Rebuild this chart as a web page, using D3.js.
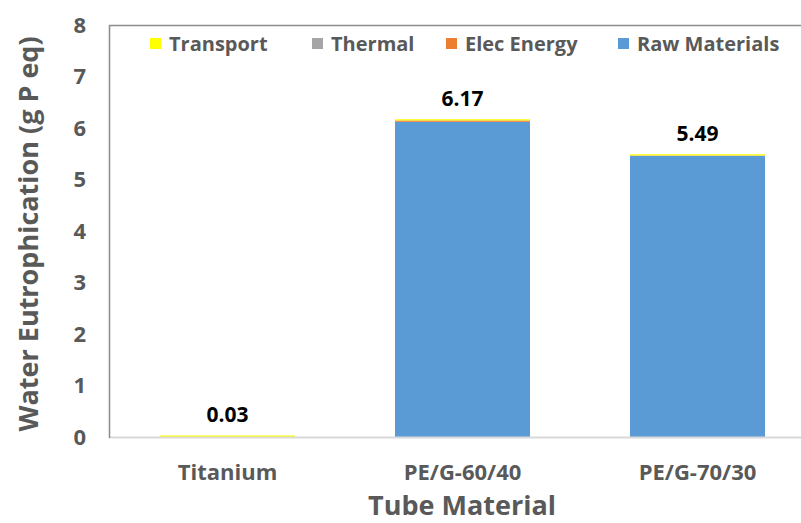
<!DOCTYPE html>
<html>
<head>
<meta charset="utf-8">
<script src="https://cdn.jsdelivr.net/npm/d3@7"></script>
<style>
  html, body { margin: 0; padding: 0; background: #ffffff; }
  svg { display: block; }
  text { font-family: "Open Sans", Lato, sans-serif; font-weight: bold; }
</style>
</head>
<body>
<svg id="chart" width="801" height="523"></svg>
<script>
// Tube materials on the x axis
const categories = ["Titanium", "PE/G-60/40", "PE/G-70/30"];

// Contributions per stage (g P eq), stacked bottom to top
const rawMaterials = [0, 6.12, 5.46];
const elecEnergy   = [0, 0.025, 0.005];
const thermal      = [0, 0.002, 0.001];
const transport    = [0.03, 0.023, 0.024];

// Totals printed above each bar
const totals = [0.03, 6.17, 5.49];

const yTicks = [0, 1, 2, 3, 4, 5, 6, 7, 8];

const seriesNames  = ["Raw Materials", "Elec Energy", "Thermal", "Transport"];
const seriesColors = ["#5B9BD5", "#ED7D31", "#A5A5A5", "#FFFF00"];
const legendOrder  = ["Transport", "Thermal", "Elec Energy", "Raw Materials"];

const rows = categories.map((c, i) => ({
  category: c,
  "Raw Materials": rawMaterials[i],
  "Elec Energy": elecEnergy[i],
  "Thermal": thermal[i],
  "Transport": transport[i]
}));

const svg = d3.select("#chart");
const textGrey = "#595959";
const fontFamily = "'Open Sans', Lato, sans-serif";

const plot = { left: 109, top: 25, bottom: 437, right: 815 };

const x = d3.scaleBand()
  .domain(categories)
  .range([plot.left + 1, plot.right])
  .paddingInner(0.4255)
  .paddingOuter(0.2128);

const y = d3.scaleLinear().domain([0, 8]).range([plot.bottom, plot.top]);

const color = d3.scaleOrdinal().domain(seriesNames).range(seriesColors);

// Plot area frame (top edge)
svg.append("line")
  .attr("x1", plot.left).attr("x2", 801)
  .attr("y1", plot.top + 0.5).attr("y2", plot.top + 0.5)
  .attr("stroke", "#8c8c8c").attr("stroke-width", 1.5);

// Stacked bars
const stacked = d3.stack().keys(seriesNames)(rows);
svg.append("g")
  .selectAll("g")
  .data(stacked)
  .join("g")
  .attr("fill", d => color(d.key))
  .selectAll("rect")
  .data(d => d)
  .join("rect")
  .attr("x", d => x(d.data.category))
  .attr("width", x.bandwidth())
  .attr("y", d => y(d[1]))
  .attr("height", d => Math.max(0, y(d[0]) - y(d[1])));

// Bottom axis line
svg.append("line")
  .attr("x1", plot.left).attr("x2", 801)
  .attr("y1", plot.bottom + 0.5).attr("y2", plot.bottom + 0.5)
  .attr("stroke", "#d9d9d9").attr("stroke-width", 2);

// Left axis line
svg.append("line")
  .attr("x1", plot.left + 0.5).attr("x2", plot.left + 0.5)
  .attr("y1", plot.top).attr("y2", plot.bottom + 1)
  .attr("stroke", "#8c8c8c").attr("stroke-width", 1.5);

// Y axis tick labels
const yAxis = svg.append("g")
  .attr("transform", `translate(${plot.left},0)`)
  .call(d3.axisLeft(y).tickValues(yTicks).tickFormat(d3.format("d")).tickSize(0).tickPadding(23));
yAxis.select(".domain").remove();
yAxis.selectAll("text")
  .attr("fill", textGrey)
  .style("font-size", "22px")
  .style("font-family", fontFamily)
  .style("font-weight", "bold");

// X axis category labels
const xAxis = svg.append("g")
  .attr("transform", `translate(0,${plot.bottom})`)
  .call(d3.axisBottom(x).tickSize(0).tickPadding(27));
xAxis.select(".domain").remove();
xAxis.selectAll("text")
  .attr("fill", textGrey)
  .style("font-size", "22px")
  .style("font-family", fontFamily)
  .style("font-weight", "bold");

// Value labels above bars
svg.append("g")
  .selectAll("text")
  .data(categories)
  .join("text")
  .attr("x", d => x(d) + x.bandwidth() / 2)
  .attr("y", (d, i) => y(totals[i]) - 13)
  .attr("text-anchor", "middle")
  .attr("fill", "#000000")
  .style("font-size", "21px")
  .text((d, i) => totals[i].toFixed(2));

// Axis titles
svg.append("text")
  .attr("x", 462)
  .attr("y", 515)
  .attr("text-anchor", "middle")
  .attr("fill", textGrey)
  .style("font-size", "27px")
  .text("Tube Material");

svg.append("text")
  .attr("transform", "translate(38,234) rotate(-90)")
  .attr("text-anchor", "middle")
  .attr("fill", textGrey)
  .style("font-size", "27px")
  .text("Water Eutrophication (g P eq)");

// Legend
const legendX = [150, 312, 446, 618];
const legend = svg.append("g")
  .selectAll("g")
  .data(legendOrder)
  .join("g")
  .attr("transform", (d, i) => `translate(${legendX[i]},38)`);
legend.append("rect")
  .attr("width", 11).attr("height", 11)
  .attr("fill", d => color(d));
legend.append("text")
  .attr("x", 19)
  .attr("y", 13)
  .attr("fill", textGrey)
  .style("font-size", "20px")
  .text(d => d);
</script>
</body>
</html>
